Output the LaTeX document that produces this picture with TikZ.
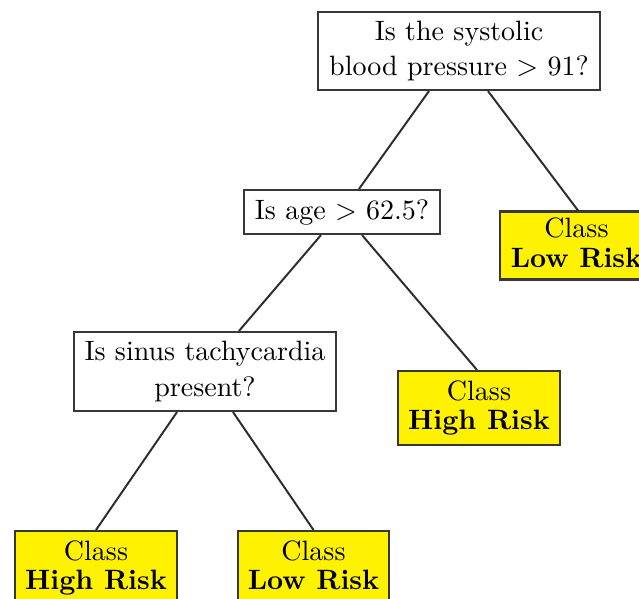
\documentclass[tikz,border=0pt]{standalone}
\usetikzlibrary{calc}
\definecolor{boxline}{RGB}{55,55,55}
\definecolor{edgeline}{RGB}{45,45,45}
\newcommand\pxu{0.357pt}
\tikzset{
  question/.style={draw=boxline, line width=0.75pt, fill=white, align=center,
    inner sep=0pt, font=\fontsize{10}{12.8}\selectfont},
  leaf/.style={draw=boxline, line width=0.75pt, fill=yellow, align=center,
    inner sep=0pt, font=\fontsize{10}{10.6}\selectfont},
  branch/.style={draw=edgeline, line width=0.7pt}
}
\begin{document}
\begin{tikzpicture}[x=0.357pt, y=-0.357pt]
  \clip (0,0) rectangle (639,598);
  \fill[white] (0,0) rectangle (639,598);

  % decision nodes
  \node[question, minimum width=282*\pxu, minimum height=78*\pxu] (root) at (459,51)
    {Is the systolic\\blood pressure $>$ 91?};
  \node[question, minimum width=196*\pxu, minimum height=44*\pxu] (age) at (342,212)
    {Is age $>$ 62.5?};
  \node[question, minimum width=262*\pxu, minimum height=79*\pxu] (sinus) at (205,371.5)
    {Is sinus tachycardia\\present?};

  % class leaves (the phantom keeps both kinds of label on the same baselines)
  \node[leaf, minimum width=153*\pxu, minimum height=68*\pxu] (lowA) at (576.5,245.5)
    {Class\\\textbf{Low Risk}\vphantom{g}};
  \node[leaf, minimum width=162*\pxu, minimum height=74*\pxu] (highA) at (479,408)
    {Class\\\textbf{High Risk}};
  \node[leaf, minimum width=162*\pxu, minimum height=74*\pxu] (highB) at (96,568)
    {Class\\\textbf{High Risk}};
  \node[leaf, minimum width=151*\pxu, minimum height=74*\pxu] (lowB) at (313.5,568)
    {Class\\\textbf{Low Risk}\vphantom{g}};

  % branches
  \draw[branch] ($(root.south)+(-30,0)$) -- ($(age.north)+(17,0)$);
  \draw[branch] ($(root.south)+(29,0)$) -- ($(lowA.north)+(1.5,0)$);
  \draw[branch] ($(age.south)+(-21,0)$) -- ($(sinus.north)+(34,0)$);
  \draw[branch] ($(age.south)+(20,0)$) -- ($(highA.north)+(-2,0)$);
  \draw[branch] ($(sinus.south)+(-28,0)$) -- (highB.north);
  \draw[branch] ($(sinus.south)+(28,0)$) -- (lowB.north);
\end{tikzpicture}
\end{document}
